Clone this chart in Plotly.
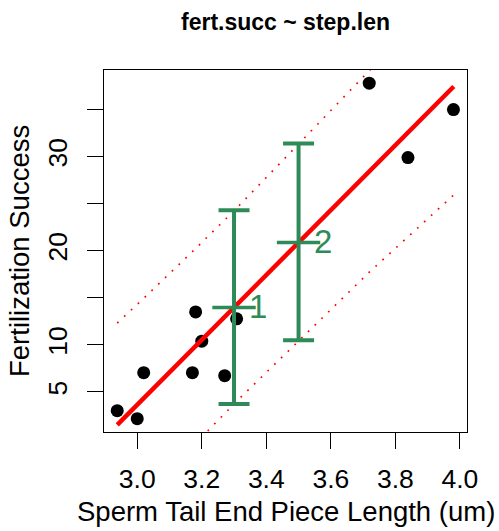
import plotly.graph_objects as go

# observed data
step_len = [2.938, 3.000, 3.020, 3.171, 3.181, 3.200, 3.271, 3.308, 3.719, 3.839, 3.980]
fert_succ = [3.02, 2.17, 7.05, 7.05, 13.5, 10.4, 6.73, 12.77, 37.8, 29.9, 35.0]

# fitted regression line (endpoints over data range)
fit_x = [2.938, 3.981]
fit_y = [1.51, 37.45]

# prediction band evaluated at sorted data x
band_x = [2.938, 3.000, 3.020, 3.171, 3.181, 3.200, 3.271, 3.308, 3.719, 3.839, 3.980]
band_upr = [12.32, 14.30, 14.95, 19.90, 20.23, 20.87, 23.26, 24.52, 39.12, 43.58, 48.92]
band_lwr = [-9.29, -7.00, -6.27, -0.82, -0.46, 0.22, 2.72, 4.01, 17.72, 21.53, 25.90]

# new-observation predictions with intervals
new_x = [3.3, 3.5]
new_fit = [13.98, 20.88]
new_lwr = [3.73, 10.50]
new_upr = [24.30, 31.40]
new_labels = ["1", "2"]

# axis ticks
x_ticks = [3.0, 3.2, 3.4, 3.6, 3.8, 4.0]
x_ticktext = ["3.0", "3.2", "3.4", "3.6", "3.8", "4.0"]
y_ticks = [5, 10, 15, 20, 25, 30, 35]
y_ticktext = ["5", "10", "", "20", "", "30", ""]

GREEN = "#2E8B57"
FONT = "Liberation Sans, Arial, Helvetica, sans-serif"
FS = 27.5
TFS = 26.5

fig = go.Figure()

fig.add_trace(go.Scatter(x=band_x, y=band_upr, mode="lines",
                         line=dict(color="red", width=1.7, dash="1.7px,7.7px"),
                         hoverinfo="skip"))
fig.add_trace(go.Scatter(x=band_x, y=band_lwr, mode="lines",
                         line=dict(color="red", width=1.7, dash="1.7px,7.7px"),
                         hoverinfo="skip"))

fig.add_trace(go.Scatter(x=step_len, y=fert_succ, mode="markers",
                         marker=dict(color="black", size=13, line=dict(width=0))))

fig.add_trace(go.Scatter(x=fit_x, y=fit_y, mode="lines",
                         line=dict(color="red", width=4.5)))

fig.add_trace(go.Scatter(
    x=new_x, y=new_fit, mode="markers",
    marker=dict(symbol="line-ew-open", size=31, color=GREEN,
                line=dict(color=GREEN, width=3.5)),
    error_y=dict(type="data", symmetric=False,
                 array=[u - f for u, f in zip(new_upr, new_fit)],
                 arrayminus=[f - l for f, l in zip(new_fit, new_lwr)],
                 color=GREEN, thickness=4, width=15.5),
))

annotations = []
for x, y, t in zip(new_x, new_fit, new_labels):
    annotations.append(dict(x=x, y=y, xref="x", yref="y", text=t, showarrow=False,
                            xanchor="left", yanchor="middle", xshift=13, yshift=1,
                            font=dict(family=FONT, size=33, color=GREEN)))

# titles
annotations.append(dict(x=0.5, y=(432 - 22) / 362, xref="paper", yref="paper",
                        text="<b>fert.succ ~ step.len</b>", showarrow=False,
                        xanchor="center", yanchor="middle",
                        font=dict(family=FONT, size=23, color="black")))
annotations.append(dict(x=0.5, y=(432 - 511) / 362, xref="paper", yref="paper",
                        text="Sperm Tail End Piece Length (um)", showarrow=False,
                        xanchor="center", yanchor="middle",
                        font=dict(family=FONT, size=FS, color="black")))
annotations.append(dict(x=(19 - 104) / 363, y=0.5, xref="paper", yref="paper",
                        text="Fertilization Success", showarrow=False, textangle=-90,
                        xanchor="center", yanchor="middle",
                        font=dict(family=FONT, size=FS, color="black")))

fig.update_layout(
    width=499, height=531,
    margin=dict(l=104, r=32, t=70, b=99, pad=0),
    paper_bgcolor="white", plot_bgcolor="white",
    showlegend=False,
    font=dict(family=FONT, size=FS, color="black"),
    annotations=annotations,
)

fig.update_xaxes(range=[2.897, 4.022], tickvals=x_ticks, ticktext=x_ticktext,
                 ticks="outside", ticklen=16, tickwidth=1.3, tickcolor="black",
                 showline=True, linecolor="black", linewidth=1.3, mirror=True,
                 showgrid=False, zeroline=False, ticklabelstandoff=7,
                 tickfont=dict(family=FONT, size=TFS, color="black"))
fig.update_yaxes(range=[0.75, 39.2], tickvals=y_ticks, ticktext=y_ticktext,
                 ticks="outside", ticklen=16, tickwidth=1.3, tickcolor="black",
                 showline=True, linecolor="black", linewidth=1.3, mirror=True,
                 showgrid=False, zeroline=False, tickangle=-90, ticklabelstandoff=9,
                 tickfont=dict(family=FONT, size=TFS, color="black"))

fig.write_html("out.html")
